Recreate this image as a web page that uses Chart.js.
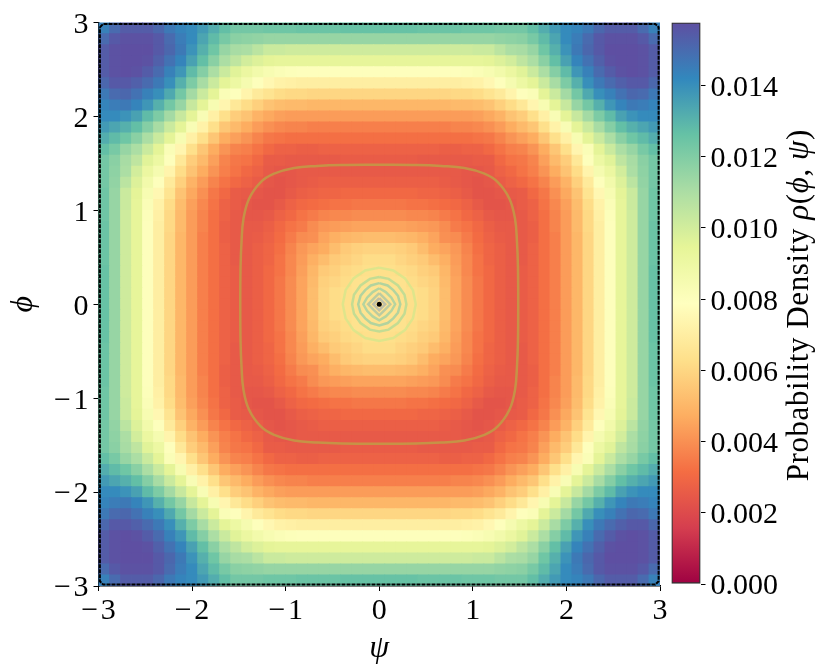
<!DOCTYPE html>
<html>
<head>
<meta charset="utf-8">
<title>Probability density</title>
<script src="https://cdn.jsdelivr.net/npm/chart.js@4"></script>
<style>
  body { margin: 0; background: #fff; }
  canvas { position: absolute; top: 0; }
  #density { left: 0; }
  #colorbar { left: 650px; }
</style>
</head>
<body>
<canvas id="density" width="670" height="672"></canvas>
<canvas id="colorbar" width="180" height="672"></canvas>
<script>
// values, in units of 1e-4. Upper triangle of the top-left
// quadrant, row r starts at column r (the picture is mirror symmetric)
const densityRows = [
  [144,150,154,154,154,151,146,143,141,137,132,127,123,123,123,124,124,124,125,125,125,125,126,126,126,126],
  [155,157,157,157,155,150,145,141,134,128,122,118,117,116,115,115,115,115,115,115,115,115,115,115,115],
  [158,158,158,155,151,146,139,131,124,115,111,110,106,102,102,101,101,101,101,101,101,101,101,101],
  [158,157,153,148,143,135,127,118,110,105,100,97,95,94,94,94,94,94,94,94,94,94,94],
  [154,150,144,138,128,119,110,102,96,91,87,84,82,81,80,80,80,80,80,80,80,80],
  [146,140,131,121,111,102,95,90,85,80,75,72,71,70,70,70,70,70,70,70,70],
  [133,123,112,102,95,82,80,73,68,65,62,61,61,60,60,60,60,60,60,60],
  [115,103,95,84,74,67,62,58,54,52,51,51,50,50,50,50,50,50,50],
  [95,83,71,63,57,54,49,46,44,43,43,43,43,43,43,43,43,43],
  [72,63,55,51,47,43,40,38,37,37,36,36,36,36,36,36,36],
  [55,47,44,41,37,34,33,32,32,32,32,32,32,32,32,32],
  [41,37,36,33,30,28,28,27,27,28,28,28,28,28,28],
  [34,33,30,26,26,25,25,25,25,25,26,26,26,26],
  [30,28,25,24,24,25,25,25,25,25,25,25,25],
  [26,24,23,24,25,26,27,27,27,27,27,27],
  [23,23,25,27,28,29,29,30,30,30,30],
  [25,28,30,31,32,33,33,34,34,34],
  [30,33,35,37,38,38,39,39,39],
  [35,39,42,43,44,45,45,45],
  [40,45,48,50,51,52,52],
  [47,52,56,58,59,59],
  [56,58,60,62,62],
  [61,62,63,63],
  [64,64,64],
  [65,65],
  [65]
];
const valueUnit = 1e-4;
const gridSize = 51;
const axisTicks = [-3, -2, -1, 0, 1, 2, 3];
const colorbarTicks = [0, 0.002, 0.004, 0.006, 0.008, 0.01, 0.012, 0.014];
const colorbarMax = 0.01577;

// matplotlib Spectral
const spectral = [
  [158,1,66],[213,62,79],[244,109,67],[253,174,97],[254,224,139],[255,255,191],
  [230,245,152],[171,221,164],[102,194,165],[50,136,189],[94,79,162]
];

// contours, first quadrant only
const outerX = [0,0.4,0.66,0.91,1.124,1.266,1.391,1.451,1.472,1.482,1.485];
const outerY = [1.485,1.482,1.472,1.451,1.391,1.301,1.124,0.91,0.66,0.4,0];
const ringXs = [
  [0,0.15,0.275,0.36,0.39],
  [0,0.1,0.2,0.27,0.29],
  [0,0.09,0.15,0.2,0.225],
  [0,0.07,0.1,0.13,0.17],
  [0,0.06,0.118],
  [0,0.064]
];
const ringYs = [
  [0.39,0.36,0.275,0.15,0],
  [0.29,0.27,0.2,0.1,0],
  [0.225,0.2,0.15,0.09,0],
  [0.17,0.13,0.1,0.07,0],
  [0.118,0.06,0],
  [0.064,0]
];
const ringColors = [
  'rgba(205,232,140,0.65)', 'rgba(170,218,150,0.7)', 'rgba(145,205,165,0.7)',
  'rgba(150,205,165,0.7)', 'rgba(165,195,165,0.75)', 'rgba(180,185,170,0.85)'
];
const boundaryX = [-2.985,-2.95,2.95,2.985,2.985,2.95,-2.95,-2.985,-2.985];
const boundaryY = [2.95,2.985,2.985,2.95,-2.95,-2.985,-2.985,-2.95,2.95];

const fontFamily = '"Liberation Serif", serif';

function colorAt(value) {
  let t = Math.min(Math.max(value / colorbarMax, 0), 1) * 10;
  let i = Math.min(Math.floor(t), 9);
  let f = t - i;
  let c = spectral[i].map((a, k) => Math.round(a + (spectral[i + 1][k] - a) * f));
  return `rgb(${c[0]},${c[1]},${c[2]})`;
}

function valueAt(i, j) {
  // fold onto the stored triangle
  let last = gridSize - 1;
  let r = Math.min(i, last - i);
  let c = Math.min(j, last - j);
  if (r > c) [r, c] = [c, r];
  return densityRows[r][c - r] * valueUnit;
}

let cells = [];
for (let i = 0; i < gridSize; i++) {
  for (let j = 0; j < gridSize; j++) {
    cells.push({
      x: -3 + (j + 0.5) * 6 / gridSize,
      y: 3 - (i + 0.5) * 6 / gridSize,
      v: valueAt(i, j)
    });
  }
}

function cellRadius(ctx) {
  let x = ctx.chart.scales.x;
  let w = x.getPixelForValue(6 / gridSize) - x.getPixelForValue(0);
  // rect point style has half side radius / sqrt2, plus a bit to hide seams
  return (w / 2 + 0.4) * Math.SQRT2;
}

// turn first quadrant points into a closed loop
function closedLoop(xs, ys) {
  let pts = xs.map((x, k) => ({ x: x, y: ys[k] }));
  let q4 = pts.slice(0, -1).reverse().map(p => ({ x: p.x, y: -p.y }));
  let half = pts.concat(q4);
  let back = half.slice(0, -1).reverse().map(p => ({ x: -p.x, y: p.y }));
  return half.concat(back);
}

let datasets = [
  {
    label: 'density', data: cells, order: 10, pointStyle: 'rect',
    pointRadius: cellRadius, pointBorderWidth: 0,
    pointBackgroundColor: ctx => colorAt(ctx.raw.v)
  },
  {
    label: 'outer contour', data: closedLoop(outerX, outerY), order: 5, showLine: true,
    borderColor: 'rgba(190,160,70,0.8)', borderWidth: 2.5, tension: 0.4, pointRadius: 0
  },
  {
    label: 'boundary', data: boundaryX.map((x, k) => ({ x: x, y: boundaryY[k] })), order: 3,
    showLine: true, clip: false, borderColor: '#000', borderWidth: 2,
    borderDash: [4, 1], pointRadius: 0
  },
  {
    label: 'centre', data: [{ x: 0, y: 0 }], order: 1, pointRadius: 2.5,
    pointBackgroundColor: '#000', pointBorderWidth: 0
  }
];
ringXs.forEach((xs, k) => {
  datasets.push({
    label: 'ring ' + k, data: closedLoop(xs, ringYs[k]), order: 4, showLine: true,
    borderColor: ringColors[k], borderWidth: 2.5, pointRadius: 0
  });
});

function minusLabel(v) {
  return String(v).replace('-', '\u2212\u200A');
}

// empty first line pushes the label about 2.5px below its tick
function loweredLabel(text) {
  return ['', text];
}

function axisOptions(fit, pad) {
  return {
    type: 'linear', min: -3, max: 3,
    afterBuildTicks: s => { s.ticks = axisTicks.map(v => ({ value: v })); },
    afterFit: fit,
    border: { color: '#000', width: 1.5 },
    grid: { drawOnChartArea: false, drawTicks: true, tickLength: 5, tickColor: '#000', tickWidth: 1 },
    ticks: {
      color: '#000', padding: pad, maxRotation: 0, autoSkip: false,
      font: { family: fontFamily, size: 30 }, callback: minusLabel
    }
  };
}

let xAxis = axisOptions(s => { s.height = 86; }, 2);
xAxis.title = { display: true, text: '\u03C8', color: '#000', padding: { top: 2, bottom: 4 }, font: { family: fontFamily, size: 32, style: 'italic' } };
let yAxis = axisOptions(s => { s.width = 98.5; }, 5);
yAxis.ticks.font = { family: fontFamily, size: 30, lineHeight: '5px' };
yAxis.ticks.callback = v => loweredLabel(minusLabel(v));
yAxis.title = { display: true, text: '\u03D5', color: '#000', padding: { bottom: 2 }, font: { family: fontFamily, size: 32, style: 'italic' } };

new Chart(document.getElementById('density'), {
  type: 'scatter',
  data: { datasets: datasets },
  options: {
    responsive: false,
    animation: false,
    events: [],
    layout: { autoPadding: false, padding: { top: 22.5, right: 10, left: 0, bottom: 0 } },
    plugins: { legend: { display: false }, tooltip: { enabled: false } },
    scales: { x: xAxis, y: yAxis }
  }
});

// colour bar label has mixed upright and italic text
const colorbarLabel = {
  id: 'colorbarLabel',
  afterDraw(chart) {
    let parts = [
      ['Probability Density ', ''], ['\u03C1', 'italic '], ['(', ''], ['\u03D5', 'italic '],
      [', ', ''], ['\u03C8', 'italic '], [')', '']
    ];
    let ctx = chart.ctx;
    let area = chart.chartArea;
    ctx.save();
    ctx.translate(area.right + 99, (area.top + area.bottom) / 2 + 2);
    ctx.rotate(-Math.PI / 2);
    ctx.fillStyle = '#000';
    ctx.textBaseline = 'middle';
    ctx.letterSpacing = '0.6px';
    let total = 0;
    parts.forEach(p => {
      ctx.font = `${p[1]}31px ${fontFamily}`;
      total += ctx.measureText(p[0]).width;
    });
    let pos = -total / 2;
    parts.forEach(p => {
      ctx.font = `${p[1]}31px ${fontFamily}`;
      ctx.fillText(p[0], pos, 0);
      pos += ctx.measureText(p[0]).width;
    });
    ctx.restore();
  }
};

new Chart(document.getElementById('colorbar'), {
  type: 'bar',
  data: {
    labels: ['density'],
    datasets: [{
      data: [[0, colorbarMax]],
      barPercentage: 1, categoryPercentage: 1,
      borderColor: '#333', borderWidth: 1.5, borderSkipped: false,
      backgroundColor: ctx => {
        if (!ctx.chart.chartArea) return 'rgba(0,0,0,0)';
        let y = ctx.chart.scales.y;
        let g = ctx.chart.ctx.createLinearGradient(0, y.getPixelForValue(0), 0, y.getPixelForValue(colorbarMax));
        spectral.forEach((c, k) => g.addColorStop(k / 10, `rgb(${c[0]},${c[1]},${c[2]})`));
        return g;
      }
    }]
  },
  options: {
    responsive: false,
    animation: false,
    events: [],
    layout: { autoPadding: false, padding: { top: 22.5, left: 21.5, right: 0, bottom: 88 } },
    plugins: { legend: { display: false }, tooltip: { enabled: false } },
    scales: {
      x: { display: false },
      y: {
        position: 'right', min: 0, max: colorbarMax,
        afterBuildTicks: s => { s.ticks = colorbarTicks.map(v => ({ value: v })); },
        afterFit: s => { s.width = 129.5; },
        border: { display: false },
        grid: { drawOnChartArea: false, drawTicks: true, tickLength: 5, tickColor: '#000', tickWidth: 1 },
        ticks: {
          color: '#000', padding: 5, autoSkip: false,
          font: { family: fontFamily, size: 30, lineHeight: '5px' },
          callback: v => loweredLabel(v.toFixed(3))
        }
      }
    }
  },
  plugins: [colorbarLabel]
});
</script>
</body>
</html>
